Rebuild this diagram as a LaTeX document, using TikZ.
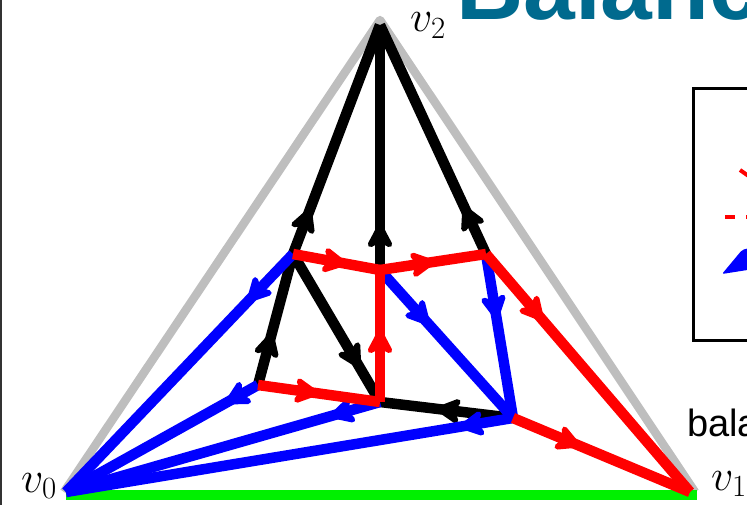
\documentclass[tikz,border=0pt]{standalone}
\usepackage{fix-cm}
\usepackage{fontspec}
\newfontfamily\sansf{Liberation Sans}
\usetikzlibrary{decorations.markings}
\definecolor{titleblue}{RGB}{0,106,142}
\definecolor{trigray}{RGB}{190,190,190}
\definecolor{greenline}{RGB}{0,240,0}
\tikzset{
  edge/.style={line width=10.5pt},
  blk/.style={edge, black},
  rd/.style={edge, red},
  bl/.style={edge, blue},
  midarr/.style={postaction={decorate, decoration={markings,
     mark=at position #1 with {\filldraw[line join=round, line width=5.5pt]
        (-3pt,0pt) -- (-21pt,9.5pt) -- (-16pt,0pt) -- (-21pt,-9.5pt) -- cycle;}}}},
  lbl/.style={inner sep=0pt, anchor=base west},
}
\begin{document}
\begin{tikzpicture}[x=1pt,y=-1pt]
\useasboundingbox (0,0) rectangle (747,505);
\clip (0,0) rectangle (747,505);
% coordinates
\coordinate (v0) at (66,492);
\coordinate (v1) at (690,492);
\coordinate (v2) at (380,25);
\coordinate (g0) at (64,492);
\coordinate (g1) at (695,492);
\coordinate (g2) at (380,20);
\coordinate (gl) at (66,495);
\coordinate (gr) at (697,495);
\coordinate (A) at (293,254);
\coordinate (B) at (380,270);
\coordinate (C) at (486,254);
\coordinate (D) at (258,385);
\coordinate (E) at (380,402);
\coordinate (F) at (513,418);
% left border
\coordinate (lb1) at (1,0);
\coordinate (lb2) at (1,505);
\draw[line width=2pt, black!80] (lb1) -- (lb2);
% outer triangle
\draw[line width=8.5pt, trigray, line join=round] (g0) -- (g2) -- (g1);
\draw[line width=9.5pt, greenline] (gl) -- (gr);
% black edges
\draw[blk, midarr=0.2] (A) -- (v2);
\draw[blk, midarr=0.19] (B) -- (v2);
\draw[blk, midarr=0.21] (C) -- (v2);
\draw[blk, midarr=0.4] (D) -- (A);
\draw[blk, midarr=0.77] (A) -- (E);
\draw[blk, midarr=0.58] (F) -- (E);
% blue edges
\draw[bl, midarr=0.2] (A) -- (v0);
\draw[bl, midarr=0.17] (D) -- (v0);
\draw[bl, midarr=0.16] (E) -- (v0);
\draw[bl, midarr=0.12] (F) -- (v0);
\draw[bl, midarr=0.37] (B) -- (F);
\draw[bl, midarr=0.4] (C) -- (F);
% red edges
\draw[rd, midarr=0.62] (A) -- (B);
\draw[rd, midarr=0.52] (B) -- (C);
\draw[rd, midarr=0.55] (E) -- (B);
\draw[rd, midarr=0.5] (D) -- (E);
\draw[rd, midarr=0.28] (C) -- (v1);
\draw[rd, midarr=0.38] (F) -- (v1);
% labels
\node[lbl] (l0) at (21,492) {\fontsize{44}{44}\selectfont $v_0$};
\node[lbl] (l1) at (711,490) {\fontsize{44}{44}\selectfont $v_1$};
\node[lbl] (l2) at (410,32) {\fontsize{44}{44}\selectfont $v_2$};
% title and text
\node[lbl, text=titleblue] (title) at (456,20) {\sansf\bfseries\fontsize{93}{93}\selectfont Balanc};
\node[lbl] (body) at (687,436) {\sansf\fontsize{38}{38}\selectfont bala};
% legend box
\coordinate (bx1) at (693,89);
\coordinate (bx2) at (800,340);
\draw[line width=3pt] (bx1) rectangle (bx2);
\coordinate (r1) at (740,170);
\coordinate (r2) at (770,191);
\draw[red, line width=4pt] (r1) -- (r2);
\coordinate (d1) at (725,217);
\coordinate (d2) at (790,217);
\draw[red, line width=4pt, dash pattern=on 10pt off 11pt] (d1) -- (d2);
\fill[blue, rounded corners=2pt] (722,274) -- (742,250) -- (760,245) -- (760,268) -- cycle;
\end{tikzpicture}
\end{document}
